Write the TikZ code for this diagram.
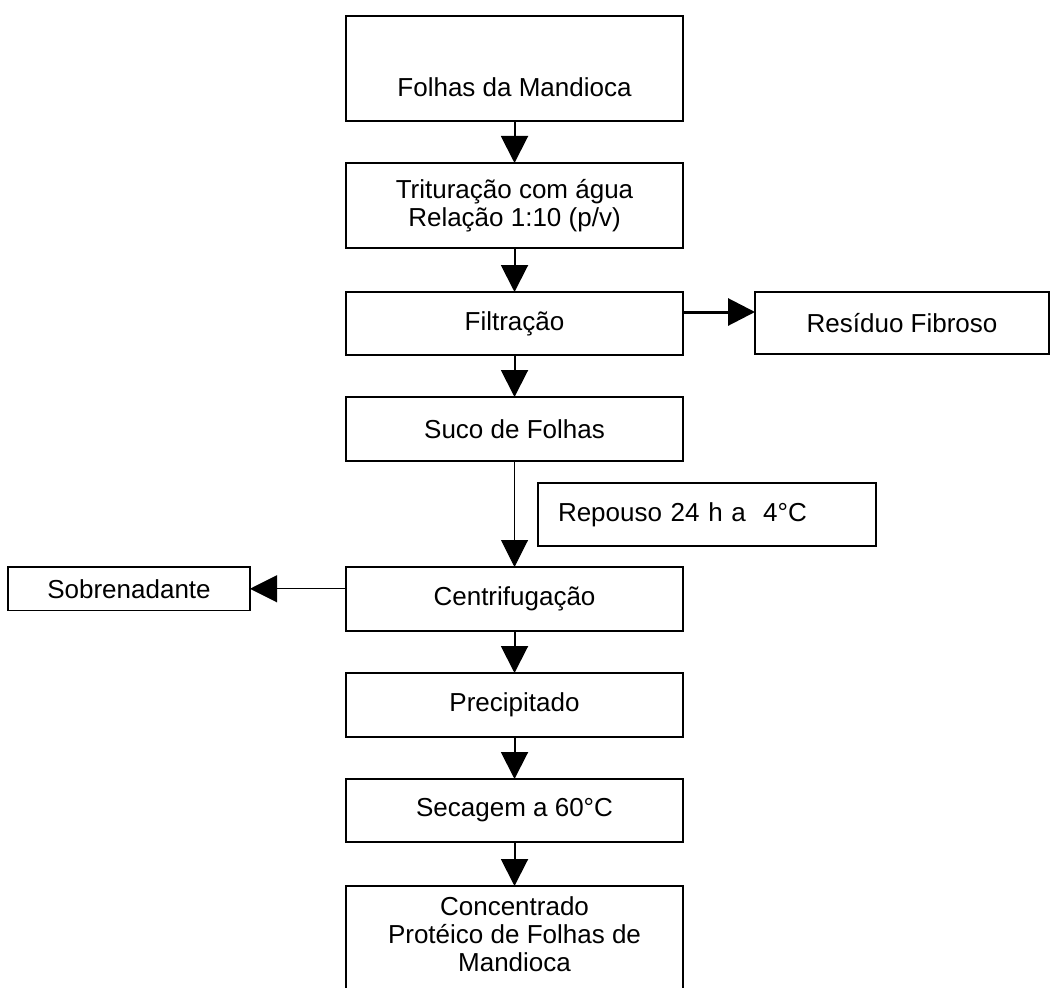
\documentclass[tikz,border=0pt]{standalone}
\usepackage{fontspec}
\setmainfont{Liberation Sans}
\usetikzlibrary{arrows.meta}
\begin{document}
\begin{tikzpicture}[x=1pt,y=-1pt,
  txt/.style={font=\fontsize{26}{28}\selectfont, align=center, inner sep=0pt},
  stage/.style={draw=black, line width=1.8pt, rectangle, inner sep=0pt, outer sep=0pt,
    font=\fontsize{26}{28}\selectfont, align=center},
  flow/.style={line width=2pt, -{Triangle[length=27pt,width=27pt]}},
  thinflow/.style={line width=1pt, -{Triangle[length=27pt,width=27pt]}},
  boldflow/.style={line width=3pt, -{Triangle[length=27pt,width=27pt]}}]
\useasboundingbox (0,0) rectangle (1056,987);
\clip (0,0) rectangle (1056,987);

% main column of process stages
\node[stage, minimum width=337pt, minimum height=105pt] (folhas) at (514.5,68.5) {};
\node[txt] (folhastxt) at ([yshift=-18.5pt]folhas.center) {Folhas da Mandioca};
\node[stage, minimum width=337pt, minimum height=85pt] (trit) at (514.5,205.5)
  {Trituração com água\\Relação 1:10 (p/v)};
\node[stage, minimum width=337pt, minimum height=63pt] (filt) at (514.5,323.5) {Filtração};
\node[stage, minimum width=337pt, minimum height=64pt] (suco) at (514.5,429) {Suco de Folhas};
\node[stage, minimum width=337pt, minimum height=64pt] (centrif) at (514.5,599) {Centrifugação};
\node[stage, minimum width=337pt, minimum height=64pt] (precip) at (514.5,705) {Precipitado};
\node[stage, minimum width=337pt, minimum height=63pt] (secag) at (514.5,810.5) {Secagem a 60°C};
% last stage runs past the lower edge of the page
\node[stage, minimum width=337pt, minimum height=140pt, anchor=north] (conc) at (514.5,886) {};
\node[txt] (conctxt) at (514.5,934) {Concentrado\\Protéico de Folhas de\\Mandioca};

% side boxes
\node[stage, minimum width=294pt, minimum height=62pt] (resid) at (902,323) {Resíduo Fibroso};
\node[stage, minimum width=242pt, minimum height=43.5pt] (sobre) at (129,588.75) {Sobrenadante};
\node[stage, minimum width=338pt, minimum height=63pt, inner xsep=20pt,
  text width=298pt, align=left] (repouso) at (707,514.5) {Repouso 24 h a \ 4°C};

% connectors
\draw[flow] (folhas) -- (trit);
\draw[flow] (trit) -- (filt);
\draw[flow] (filt) -- (suco);
\draw[boldflow] ([yshift=11.5pt]filt.east) -- ([yshift=11pt]resid.west);
\draw[thinflow] (suco) -- (centrif);
\draw[thinflow] (centrif.west |- sobre.east) -- (sobre.east);
\draw[flow] (centrif) -- (precip);
\draw[flow] (precip) -- (secag);
\draw[flow] (secag) -- (conc);
\end{tikzpicture}
\end{document}
